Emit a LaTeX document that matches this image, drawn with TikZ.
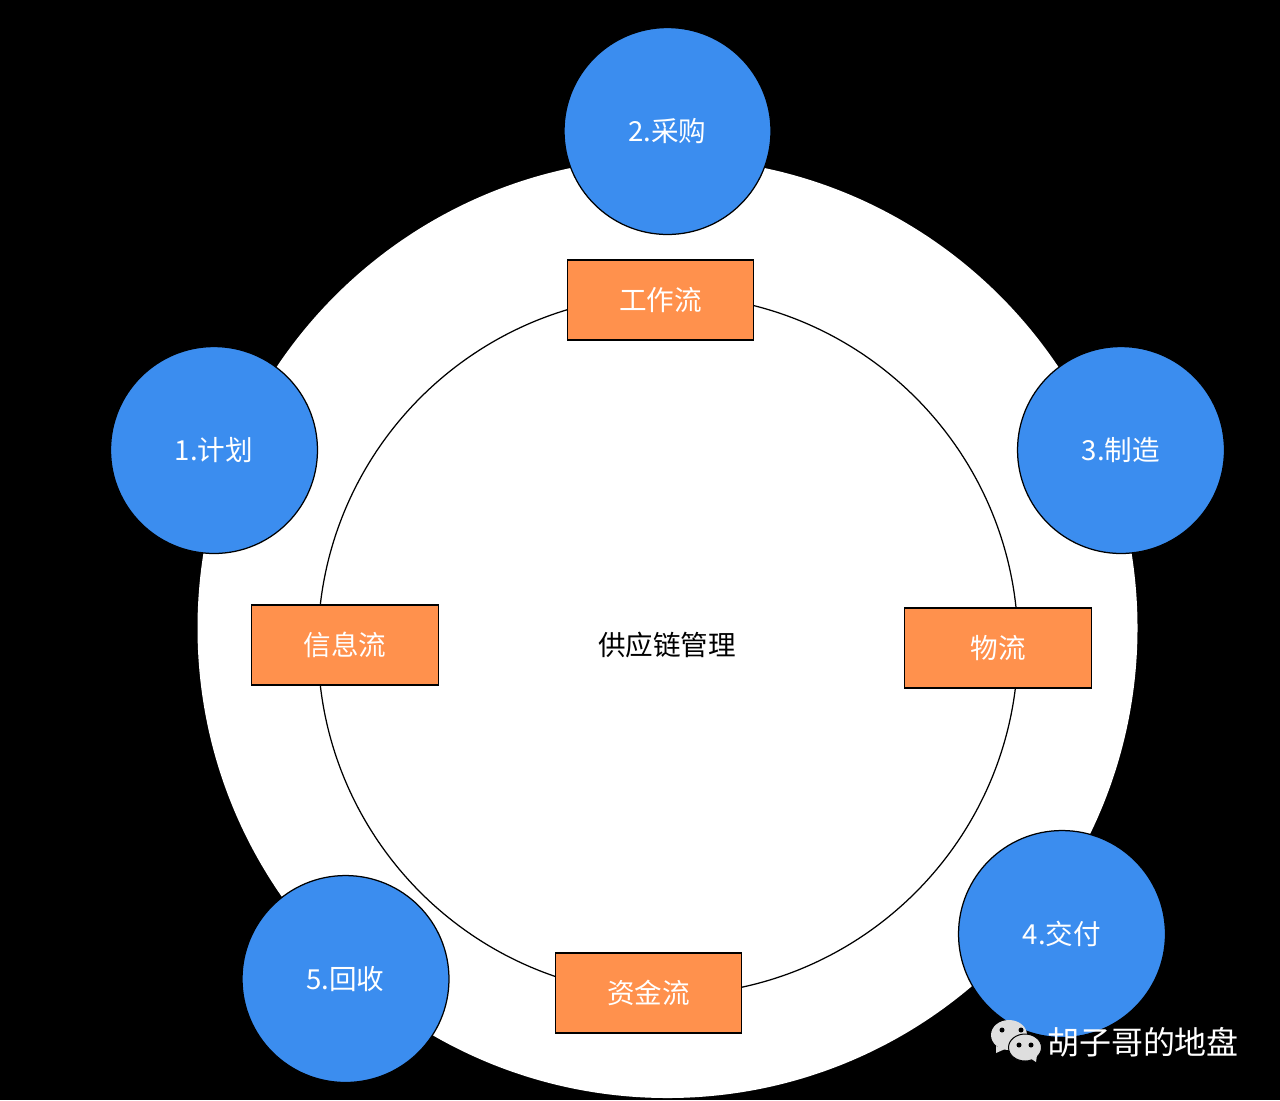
\documentclass[tikz,border=0pt]{standalone}
\usepackage{fontspec}
\setmainfont{Noto Sans CJK SC}
\definecolor{stageblue}{HTML}{3B8DEF}
\definecolor{floworange}{HTML}{FF914D}
\definecolor{chatgrey}{HTML}{DEDEDE}
\tikzset{
	stage/.style={circle, draw=black, line width=0.25mm, fill=stageblue, text=white, minimum size=4.14cm, inner sep=0pt, font=\fontsize{15.7}{18}\selectfont},
	flowbox/.style={rectangle, draw=black, line width=0.22mm, fill=floworange, text=white, minimum width=3.73cm, minimum height=1.6cm, inner sep=0pt, font=\fontsize{15.7}{18}\selectfont},
	bubble/.style={ellipse, fill=chatgrey, inner sep=0pt},
	eye/.style={circle, fill=black, inner sep=0pt, minimum size=0.1cm}
}
\usetikzlibrary{shapes.geometric}
\begin{document}
\begin{tikzpicture}[x=0.02cm, y=-0.02cm]
	%%%%% START %%%%%
	\useasboundingbox[fill=black] (0, 0) rectangle (1280, 1100);

	\fill[white] (667.5, 628) circle (470);
	\draw[line width=0.25mm] (668, 645) circle (350);

	\node[stage] (plan) at (214, 450) {1.计划};
	\node[stage] (purchase) at (667.5, 131) {2.采购};
	\node[stage] (make) at (1121, 450) {3.制造};
	\node[stage] (deliver) at (1062, 934) {4.交付};
	\node[stage] (recycle) at (345.5, 979) {5.回收};

	\node[flowbox] (work) at (660.7, 300) {工作流};
	\node[flowbox] (info) at (345, 645) {信息流};
	\node[flowbox] (goods) at (998, 648) {物流};
	\node[flowbox] (money) at (648.5, 993) {资金流};

	\node[font=\fontsize{15.7}{18}\selectfont] (title) at (667, 645) {供应链管理};

	% watermark
	\node[bubble, minimum width=0.72cm, minimum height=0.6cm] (chatback) at (1009, 1035) {};
	\fill[chatgrey] (996, 1046) -- (996, 1053) -- (1005, 1049) -- cycle;
	\node[eye] (eyea) at (1002, 1030) {};
	\node[eye] (eyeb) at (1021, 1030) {};
	\node[bubble, draw=black, line width=0.2mm, minimum width=0.66cm, minimum height=0.54cm] (chatfront) at (1025, 1047.5) {};
	\fill[chatgrey] (1030, 1058) -- (1036, 1062) -- (1037, 1055) -- cycle;
	\node[eye] (eyec) at (1019, 1045) {};
	\node[eye] (eyed) at (1031, 1045) {};
	\node[text=white, font=\fontsize{18.2}{20}\selectfont] (mark) at (1143, 1042) {胡子哥的地盘};
	%%%%% END %%%%%
\end{tikzpicture}
\end{document}
